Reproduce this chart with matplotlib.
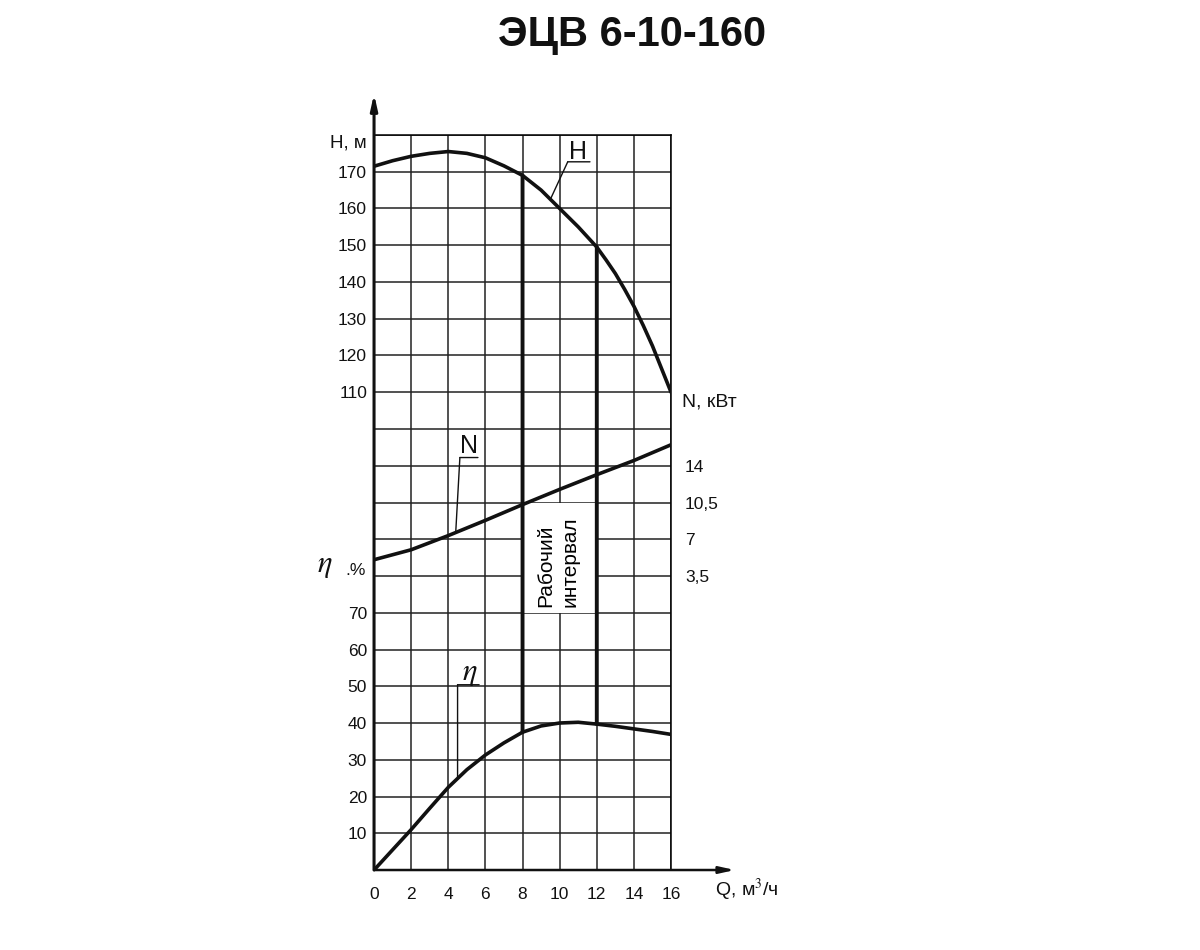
import numpy as np
import matplotlib
matplotlib.use("Agg")
import matplotlib.pyplot as plt
from matplotlib.transforms import offset_copy

plt.rcParams['font.family'] = ['Liberation Sans', 'DejaVu Sans']
plt.rcParams['mathtext.fontset'] = 'stix'

# data
q_h = [0, 1, 2, 3, 4, 5, 6, 7, 8, 9, 10, 11, 12, 12.5, 13, 13.5, 14, 14.5,
       15, 15.5, 16]
head = [171.5, 173.0, 174.2, 175.0, 175.5, 175.0, 173.8, 171.6, 169.0,
        165.0, 160.0, 155.0, 149.5, 146.0, 142.3, 138.0, 133.4, 128.2,
        122.6, 116.3, 110.0]

q_n = [0, 2, 4, 6, 8, 10, 12, 14, 16]
power = [5.05, 6.0, 7.35, 8.8, 10.3, 11.75, 13.15, 14.5, 16.0]

q_eta = [0, 1, 2, 3, 4, 5, 6, 7, 8, 9, 10, 11, 12, 13, 14, 15, 16]
eff = [0, 5.5, 11.0, 16.8, 22.5, 27.3, 31.3, 34.6, 37.5, 39.2, 40.0,
       40.2, 39.7, 39.1, 38.4, 37.7, 36.9]

interval_q = [8, 12]

q_ticks = [0, 2, 4, 6, 8, 10, 12, 14, 16]
eta_ticks = [10, 20, 30, 40, 50, 60, 70]
h_ticks = [110, 120, 130, 140, 150, 160, 170]
n_ticks = [3.5, 7, 10.5, 14]
n_labels = ['3,5', '7', '10,5', '14']

fig = plt.figure(figsize=(12, 9.5), dpi=100)
fig.text(0.527, 0.963, 'ЭЦВ 6-10-160', ha='center', va='center',
         fontsize=30, fontweight='bold', color='#111111')

# main axes: efficiency scale, 20 grid rows of 10 %
ax = fig.add_axes([0.3117, 0.0842, 0.2475, 0.7737])
ax.set_xlim(0, 16)
ax.set_ylim(0, 200)
ax.set_xticks(q_ticks)
ax.set_xticklabels([str(q) for q in q_ticks])
ax.set_yticks(np.arange(0, 201, 10))
ax.set_yticklabels([str(int(v)) if v in eta_ticks else '' for v in np.arange(0, 201, 10)])
ax.tick_params(length=0, labelsize=12.5, colors='#111111')
ax.tick_params(axis='x', pad=12)
ax.tick_params(axis='y', pad=5)
ax.grid(True, color='#222222', lw=1.1, zorder=0.5)
ax.set_axisbelow(True)
for s in ['left', 'bottom']:
    ax.spines[s].set_visible(False)
for s in ['top', 'right']:
    ax.spines[s].set_linewidth(1.1)

# head scale shares the left side
axH = ax.twinx()
axH.set_ylim(-20, 180)
axH.yaxis.tick_left()
axH.set_yticks(h_ticks)
axH.set_yticklabels([str(v) for v in h_ticks])
axH.tick_params(length=0, labelsize=12.5, pad=5, colors='#111111')
for s in axH.spines.values():
    s.set_visible(False)

# power scale on the right
axN = ax.twinx()
axN.set_ylim(-24.5, 45.5)
axN.set_yticks(n_ticks)
axN.set_yticklabels(n_labels)
axN.tick_params(length=0, labelsize=12.5, pad=10, colors='#111111')
for s in axN.spines.values():
    s.set_visible(False)

# working interval
ax.fill_between(interval_q, 70, 100, facecolor='white', edgecolor='none',
                lw=0, zorder=2)
for q in interval_q:
    ax.annotate('', xy=(q, head[q_h.index(q)]), xycoords=axH.transData,
                xytext=(q, eff[q_eta.index(q)]), textcoords=ax.transData,
                arrowprops=dict(arrowstyle='-', lw=2.8, color='#111111',
                                shrinkA=0, shrinkB=0), zorder=3)
ax.text(np.mean(interval_q) - 0.1, 71.5, 'Рабочий\nинтервал', rotation=90,
        ha='center', va='bottom', fontsize=15, linespacing=1.4,
        multialignment='left', zorder=4)

# curves
axH.plot(q_h, head, color='#111111', lw=2.6, solid_capstyle='round')
axN.plot(q_n, power, color='#111111', lw=2.6, solid_capstyle='round')
ax.plot(q_eta, eff, color='#111111', lw=2.6, solid_capstyle='round', zorder=5)


def curve_label(axis, q, qs, vals, lead, under_w, text_off, label, size):
    v = np.interp(q, qs, vals)
    axis.annotate('', xy=(q, v), xytext=lead, textcoords='offset points',
                  arrowprops=dict(arrowstyle='-', lw=1.0, color='#111111',
                                  shrinkA=0, shrinkB=0))
    tr = offset_copy(axis.transData, fig=fig, x=lead[0], y=lead[1], units='points')
    axis.annotate('', xy=(q, v), xycoords=tr, xytext=(under_w, 0),
                  textcoords='offset points',
                  arrowprops=dict(arrowstyle='-', lw=1.0, color='#111111',
                                  shrinkA=0, shrinkB=0))
    axis.annotate(label, xy=(q, v), xytext=text_off, textcoords='offset points',
                  ha='center', va='baseline', fontsize=size, color='#111111')


curve_label(axH, 9.5, q_h, head, (12.5, 27), 16, (20, 29), 'H', 18)
curve_label(axN, 4.4, q_n, power, (3, 54), 13, (9.5, 57), 'N', 18)
curve_label(ax, 4.5, q_eta, eff, (0, 67.5), 15.5, (8.5, 71), r'$\eta$', 22)

# axis arrows
ax.annotate('', xy=(0, 1.056), xycoords='axes fraction', xytext=(0, 0),
            arrowprops=dict(arrowstyle='-|>,head_length=0.9,head_width=0.2',
                            lw=2.2, color='#111111', shrinkA=0, shrinkB=0),
            annotation_clip=False, zorder=6)
ax.annotate('', xy=(1.215, 0), xycoords='axes fraction', xytext=(0, 0),
            arrowprops=dict(arrowstyle='-|>,head_length=0.9,head_width=0.2',
                            lw=1.8, color='#111111', shrinkA=0, shrinkB=0),
            annotation_clip=False, zorder=6)

# axis captions
ax.text(-0.024, 0.989, 'H, м', transform=ax.transAxes, ha='right', va='center',
        fontsize=13.5, color='#111111')
ax.text(-0.165, 0.415, r'$\eta$', transform=ax.transAxes, ha='center', va='center',
        fontsize=22, color='#111111')
ax.text(-0.028, 0.408, '.%', transform=ax.transAxes, ha='right', va='center',
        fontsize=12.5, color='#111111')
ax.text(1.037, 0.637, 'N, кВт', transform=ax.transAxes, ha='left', va='center',
        fontsize=14, color='#111111')
ax.text(1.148, -0.027, 'Q, м$^3$/ч', transform=ax.transAxes, ha='left', va='center',
        fontsize=14, color='#111111')

fig.savefig('out.png', dpi=100, facecolor='white')
